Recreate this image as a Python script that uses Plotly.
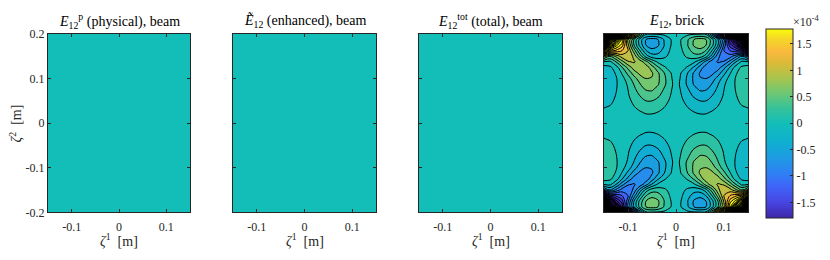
import numpy as np
import plotly.graph_objects as go

# ---------------- data ----------------
x_tickvals = [-0.1, 0, 0.1]
x_ticktext = ["-0.1", "0", "0.1"]
y_tickvals = [-0.2, -0.1, 0, 0.1, 0.2]
y_ticktext = ["-0.2", "-0.1", "0", "0.1", "0.2"]
cbar_tickvals = [-1.5, -1, -0.5, 0, 0.5, 1, 1.5]
cbar_ticktext = ["-1.5", "-1", "-0.5", "0", "0.5", "1", "1.5"]
value_scale = 1e-4          # colorbar multiplier (x10^-4)
color_min, color_max = -1.79, 1.79

titles = [
    "<i>E</i><sub>12</sub><sup>p</sup> (physical), beam",
    "<i>\u1ebc</i><sub>12</sub> (enhanced), beam",
    "<i>E</i><sub>12</sub><sup>tot</sup> (total), beam",
    "<i>E</i><sub>12</sub>, brick",
]
x_label = "<i>\u03b6</i><sup>1</sup>  [m]"
y_label = "<i>\u03b6</i><sup>2</sup>  [m]"

# beam panels: uniform (~0) fields
beam_x = [-0.15, 0.15]
beam_y = [-0.2, 0.2]
physical_beam = [[0.0, 0.0], [0.0, 0.0]]
enhanced_beam = [[0.0, 0.0], [0.0, 0.0]]
total_beam = [[0.0, 0.0], [0.0, 0.0]]

# brick panel: values (x1e-4) read for the upper-left quarter
# (field is odd in both zeta1 and zeta2)
brick_x_quarter = [-0.15, -0.1375, -0.125, -0.1125, -0.1, -0.0875, -0.075,
                   -0.0625, -0.05, -0.0375, -0.025, -0.0125, 0.0]
brick_y_quarter = [0.2, 0.1875, 0.175, 0.1625, 0.15, 0.1375, 0.125, 0.1125,
                   0.1, 0.0875, 0.075, 0.0625, 0.05, 0.0375, 0.025, 0.0125, 0.0]
brick_quarter = [
    [20.0, 12.0, 7.0, 4.5, 2.8, 1.5, 0.5, -0.06, -0.08, -0.07, -0.05, -0.02, 0],
    [12.0, 4.5, 3.0, 1.9, 0.9, 0.3, -0.2, -0.5, -0.59, -0.5, -0.29, -0.12, 0],
    [6.0, 3.0, 2.0, 1.6, 0.95, 0.3, -0.18, -0.5, -0.62, -0.53, -0.31, -0.12, 0],
    [2.5, 1.6, 1.45, 1.3, 1.1, 0.6, 0.1, -0.29, -0.43, -0.39, -0.23, -0.09, 0],
    [0.8, 0.5, 0.75, 1.0, 1.05, 0.85, 0.4, 0.0, -0.21, -0.22, -0.14, -0.055, 0],
    [0.1, 0.05, 0.3, 0.62, 0.88, 0.92, 0.82, 0.58, 0.27, 0.06, -0.01, -0.01, 0],
    [-0.2, -0.14, 0.0, 0.28, 0.56, 0.8, 0.88, 0.8, 0.6, 0.33, 0.13, 0.03, 0],
    [-0.23, -0.19, -0.08, 0.12, 0.36, 0.6, 0.76, 0.8, 0.72, 0.53, 0.31, 0.12, 0],
    [-0.25, -0.2, -0.12, 0.03, 0.2, 0.42, 0.6, 0.7, 0.69, 0.54, 0.36, 0.15, 0],
    [-0.25, -0.21, -0.12, -0.015, 0.13, 0.31, 0.49, 0.62, 0.63, 0.52, 0.35, 0.18, 0],
    [-0.225, -0.19, -0.11, -0.02, 0.1, 0.25, 0.4, 0.51, 0.52, 0.43, 0.28, 0.14, 0],
    [-0.19, -0.16, -0.094, -0.017, 0.08, 0.2, 0.31, 0.41, 0.42, 0.34, 0.22, 0.11, 0],
    [-0.15, -0.13, -0.077, -0.016, 0.056, 0.14, 0.23, 0.3, 0.3, 0.24, 0.16, 0.08, 0],
    [-0.11, -0.095, -0.058, -0.013, 0.037, 0.097, 0.15, 0.2, 0.2, 0.16, 0.11, 0.055, 0],
    [-0.075, -0.063, -0.038, -0.01, 0.021, 0.058, 0.09, 0.12, 0.12, 0.1, 0.064, 0.033, 0],
    [-0.04, -0.032, -0.02, -0.007, 0.01, 0.025, 0.045, 0.06, 0.062, 0.05, 0.032, 0.012, 0],
    [0, 0, 0, 0, 0, 0, 0, 0, 0, 0, 0, 0, 0],
]
contour_step = 0.2
fill_level_max = 1.7
line_level_max = 19.9

# ---------------- build full brick table by symmetry ----------------
Q = np.array(brick_quarter, dtype=float)
xq = np.array(brick_x_quarter)
yq = np.array(brick_y_quarter)
up = Q[::-1]                                   # rows: y = 0 .. 0.2
top = np.hstack([up, -up[:, ::-1][:, 1:]])     # x = -0.15 .. 0.15
brick_full = np.vstack([-top[::-1][:-1], top]) # y = -0.2 .. 0.2
brick_x = np.concatenate([xq, -xq[::-1][1:]])
y_up = yq[::-1]
brick_y = np.concatenate([-y_up[::-1][:-1], y_up])

# ---------------- style ----------------
parula = [
    [0.00, "#3E26A8"], [0.08, "#4744E0"], [0.16, "#4062F8"], [0.24, "#2E81F4"],
    [0.32, "#1E9BE2"], [0.40, "#0EAFD0"], [0.50, "#13BEB8"], [0.58, "#36C29A"],
    [0.66, "#6EC773"], [0.74, "#A8C44E"], [0.82, "#DCBA38"], [0.88, "#FAB93E"],
    [0.94, "#F5D32A"], [1.00, "#F9FB0E"],
]
FONT = "Liberation Serif, DejaVu Serif, serif"
AX = "#262626"
W, H = 830, 260
panel_px = [(48, 190), (233, 376), (419, 562), (604, 748)]
top_px, bot_px = 28.5, 217

fig = go.Figure()

beam_sets = [physical_beam, enhanced_beam, total_beam]
for i, z in enumerate(beam_sets):
    if i == 0:
        kw = dict(showscale=True, colorbar=dict(
            x=766 / W, xanchor="left", xpad=0,
            y=1 - ((top_px + bot_px) / 2) / H, yanchor="middle", ypad=0,
            len=189, lenmode="pixels", thickness=27, thicknessmode="pixels",
            outlinewidth=1, outlinecolor=AX,
            ticks="inside", ticklen=3, tickcolor=AX,
            tickvals=[v * value_scale for v in cbar_tickvals],
            ticktext=cbar_ticktext,
            tickfont=dict(family=FONT, size=12, color=AX),
        ))
    else:
        kw = dict(showscale=False)
    fig.add_trace(go.Heatmap(
        x=beam_x, y=beam_y, z=np.array(z) * value_scale,
        colorscale=parula, zmin=color_min * value_scale, zmax=color_max * value_scale,
        xaxis=f"x{i + 1 if i else ''}", yaxis=f"y{i + 1 if i else ''}",
        hoverinfo="skip", **kw))

# brick: filled bands
fig.add_trace(go.Contour(
    x=brick_x, y=brick_y, z=brick_full * value_scale,
    colorscale=parula, zmin=-1.8 * value_scale, zmax=1.8 * value_scale, zauto=False,
    contours=dict(start=-fill_level_max * value_scale, end=fill_level_max * value_scale,
                  size=contour_step * value_scale, coloring="fill", showlines=False),
    line=dict(width=0, smoothing=1.0),
    showscale=False, xaxis="x4", yaxis="y4", hoverinfo="skip"))
# brick: contour lines
fig.add_trace(go.Contour(
    x=brick_x, y=brick_y, z=brick_full * value_scale,
    contours=dict(start=-line_level_max * value_scale, end=line_level_max * value_scale,
                  size=contour_step * value_scale, coloring="none", showlines=True),
    line=dict(color="black", width=1.0, smoothing=1.0),
    showscale=False, xaxis="x4", yaxis="y4", hoverinfo="skip"))

layout = dict(width=W, height=H, margin=dict(l=0, r=0, t=0, b=0),
              paper_bgcolor="white", plot_bgcolor="white", showlegend=False,
              font=dict(family=FONT, size=12, color=AX))
ydom = [1 - bot_px / H, 1 - top_px / H]
for i, (a, b) in enumerate(panel_px):
    sfx = "" if i == 0 else str(i + 1)
    layout["xaxis" + sfx] = dict(
        domain=[a / W, b / W], range=[-0.15, 0.15], anchor="y" + sfx,
        showline=True, mirror="ticks", linecolor=AX, linewidth=1,
        ticks="inside", ticklen=3, tickcolor=AX, tickwidth=1,
        tickvals=x_tickvals, ticktext=x_ticktext, ticklabelstandoff=3,
        tickfont=dict(family=FONT, size=12, color=AX),
        showgrid=False, zeroline=False, fixedrange=True)
    layout["yaxis" + sfx] = dict(
        domain=ydom, range=[-0.2, 0.2], anchor="x" + sfx,
        showline=True, mirror="ticks", linecolor=AX, linewidth=1,
        ticks="inside", ticklen=3, tickcolor=AX, tickwidth=1,
        tickvals=y_tickvals, ticktext=y_ticktext, showticklabels=(i == 0),
        tickfont=dict(family=FONT, size=12, color=AX),
        showgrid=False, zeroline=False, fixedrange=True)

annotations = []
for i, (a, b) in enumerate(panel_px):
    cx = (a + b) / 2 / W
    annotations.append(dict(text=titles[i], x=cx, y=1 - 15 / H, xref="paper", yref="paper",
                            xanchor="center", yanchor="middle", showarrow=False,
                            font=dict(family=FONT, size=14, color="black")))
    annotations.append(dict(text=x_label, x=cx, y=1 - 246 / H, xref="paper", yref="paper",
                            xanchor="center", yanchor="middle", showarrow=False,
                            font=dict(family=FONT, size=14, color=AX)))
annotations.append(dict(text=y_label, x=16 / W, y=1 - 123 / H, xref="paper", yref="paper",
                        xanchor="center", yanchor="middle", textangle=-90, showarrow=False,
                        font=dict(family=FONT, size=14, color=AX)))
annotations.append(dict(text="\u00d710<sup>-4</sup>", x=791 / W, y=1 - 15 / H,
                        xref="paper", yref="paper", xanchor="left", yanchor="middle",
                        showarrow=False, font=dict(family=FONT, size=12, color=AX)))
layout["annotations"] = annotations
fig.update_layout(**layout)

fig.write_html("out.html", config={"displayModeBar": False},
               post_script="document.body.style.margin='0px';")
